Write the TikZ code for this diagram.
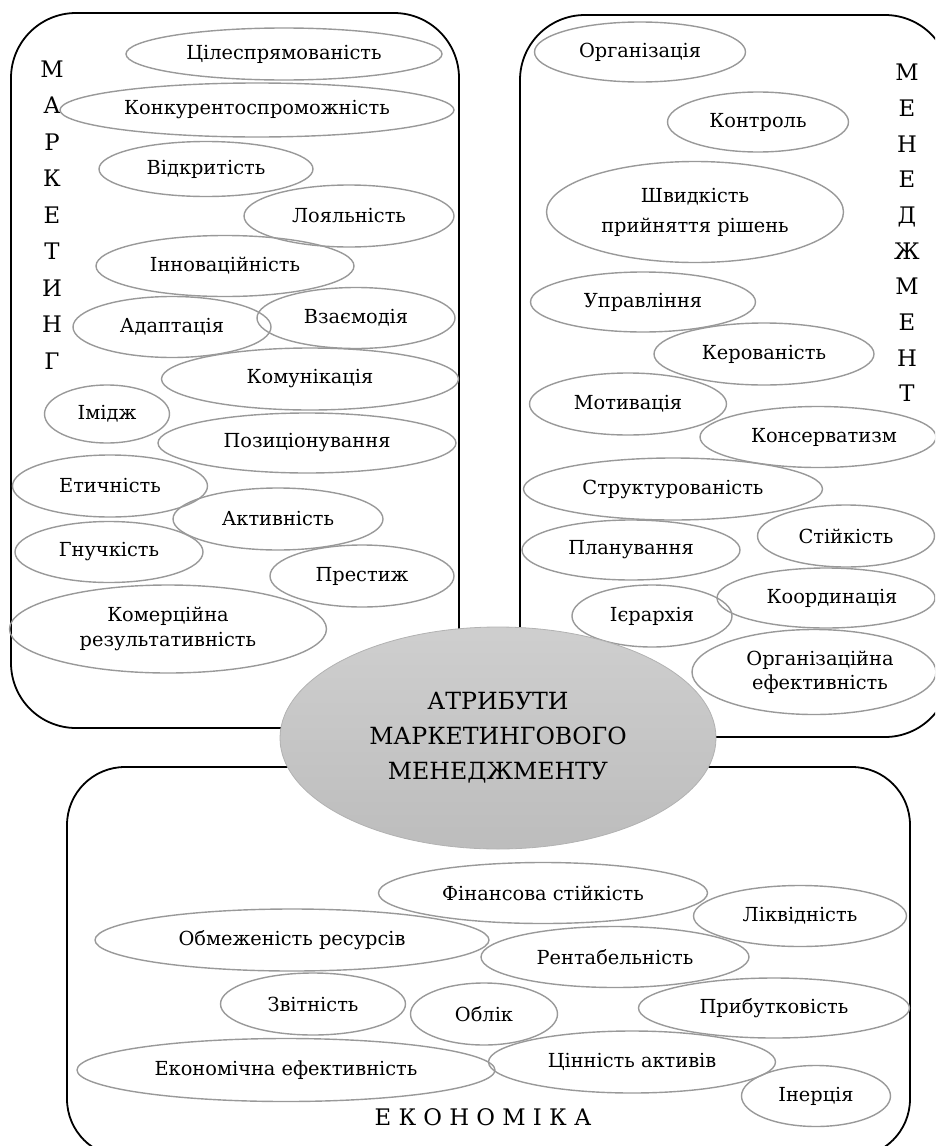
\documentclass[tikz,border=0pt]{standalone}
\usepackage{fontspec}
\setmainfont{DejaVu Serif}[Scale=0.86]
\newfontfamily\tnr{DejaVu Serif}[Scale=0.86]
\usetikzlibrary{shapes.geometric}
\tikzset{
  box/.style={draw=black, line width=1.8pt, rectangle, inner sep=0pt, rounded corners=#1},
  box/.default=65pt,
  attr/.style={draw=black!40, line width=1.4pt, ellipse, inner sep=0pt, align=center,
    font=\tnr\fontsize{22.5}{25}\selectfont},
  vlet/.style={font=\tnr\fontsize{26.5}{36.5}\selectfont, align=center, inner sep=0pt},
  core/.style={ellipse, draw=black!30, line width=0.8pt, top color=black!19, bottom color=black!26,
    inner sep=0pt, align=center, font=\tnr\fontsize{27.5}{35}\selectfont},
}
\newcommand\att[6]{\node[attr, minimum width=#4pt, minimum height=#5pt] (#1) at (#2,#3) {#6};}
\begin{document}
\begin{tikzpicture}[x=1pt,y=-1pt]
\useasboundingbox (0,0) rectangle (935,1146);
\clip (0,0) rectangle (935,1146);
% boxes
\node[box, minimum width=448pt, minimum height=715pt] (mkt) at (235,370.5) {};
\node[box, minimum width=430pt, minimum height=722pt] (mgmt) at (735,376) {};
\node[box=58pt, minimum width=843pt, minimum height=390pt] (eco) at (488.5,962) {};
% vertical titles
\node[vlet] (mktword) at (52,215) {М\\А\\Р\\К\\Е\\Т\\И\\Н\\Г};
\node[vlet, font=\tnr\fontsize{26.5}{35.7}\selectfont] (mgmtword) at (907,233) {М\\Е\\Н\\Е\\Д\\Ж\\М\\Е\\Н\\Т};
\node[vlet] (ecoword) at (483,1117) {Е К О Н О М І К А};
% marketing
\att{m1}{284}{54}{316}{52}{Цілеспрямованість}
\att{m2}{257}{110}{394}{54}{Конкурентоспроможність}
\att{m3}{206}{169}{214}{55}{Відкритість}
\att{m4}{349}{216}{210}{62}{Лояльність}
\att{m5}{225}{266}{258}{61}{Інноваційність}
\att{m6}{172}{327}{198}{61}{Адаптація}
\att{m7}{356}{318}{198}{61}{Взаємодія}
\att{m8}{310}{379}{297}{62}{Комунікація}
\att{m9}{107}{414}{125}{58}{Імідж}
\att{m10}{307}{443}{298}{60}{Позиціонування}
\att{m11}{110}{486}{195}{62}{Етичність}
\att{m12}{278}{519}{210}{62}{Активність}
\att{m13}{109}{552}{188}{61}{Гнучкість}
\att{m14}{362}{576}{184}{62}{Престиж}
\att{m15}{168}{629}{317}{88}{Комерційна\\результативність}
% management
\att{n1}{640}{52}{211}{60}{Організація}
\att{n2}{758}{122}{181}{60}{Контроль}
\node[attr, minimum width=297pt, minimum height=101pt, font=\tnr\fontsize{22.5}{30}\selectfont] (n3) at (695,212) {Швидкість\\прийняття рішень};
\att{n4}{643}{302}{225}{60}{Управління}
\att{n5}{764}{354}{220}{62}{Керованість}
\att{n6}{628}{404}{197}{62}{Мотивація}
\att{n7}{818}{437}{236}{61}{\hspace*{12pt}Консерватизм}
\att{n8}{673}{489}{299}{62}{Структурованість}
\att{n9}{631}{550}{218}{60}{Планування}
\att{n10}{846}{536}{177}{62}{Стійкість}
\att{n11}{826}{598}{218}{60}{\hspace*{12pt}Координація}
\att{n12}{652}{616}{160}{62}{Ієрархія}
\node[attr, minimum width=244pt, minimum height=85pt, font=\tnr\fontsize{22.5}{24}\selectfont] (n13) at (814,672) {\hspace*{12pt}Організаційна\\\hspace*{12pt}ефективність};
% economics
\att{e1}{543}{893}{329}{61}{Фінансова стійкість}
\att{e2}{800}{916}{213}{61}{Ліквідність}
\att{e3}{292}{940}{394}{62}{Обмеженість ресурсів}
\att{e4}{615}{957}{268}{61}{Рентабельність}
\att{e5}{313}{1004}{185}{62}{Звітність}
\att{e6}{484}{1014}{147}{62}{Облік}
\att{e7}{774}{1008}{271}{60}{Прибутковість}
\att{e8}{286}{1070}{418}{63}{Економічна ефективність}
\att{e9}{632}{1062}{287}{62}{Цінність активів}
\att{e10}{816}{1096}{149}{61}{Інерція}
% core
\node[core, minimum width=436pt, minimum height=222pt] (core) at (498,738) {АТРИБУТИ\\МАРКЕТИНГОВОГО\\МЕНЕДЖМЕНТУ};
\end{tikzpicture}
\end{document}
